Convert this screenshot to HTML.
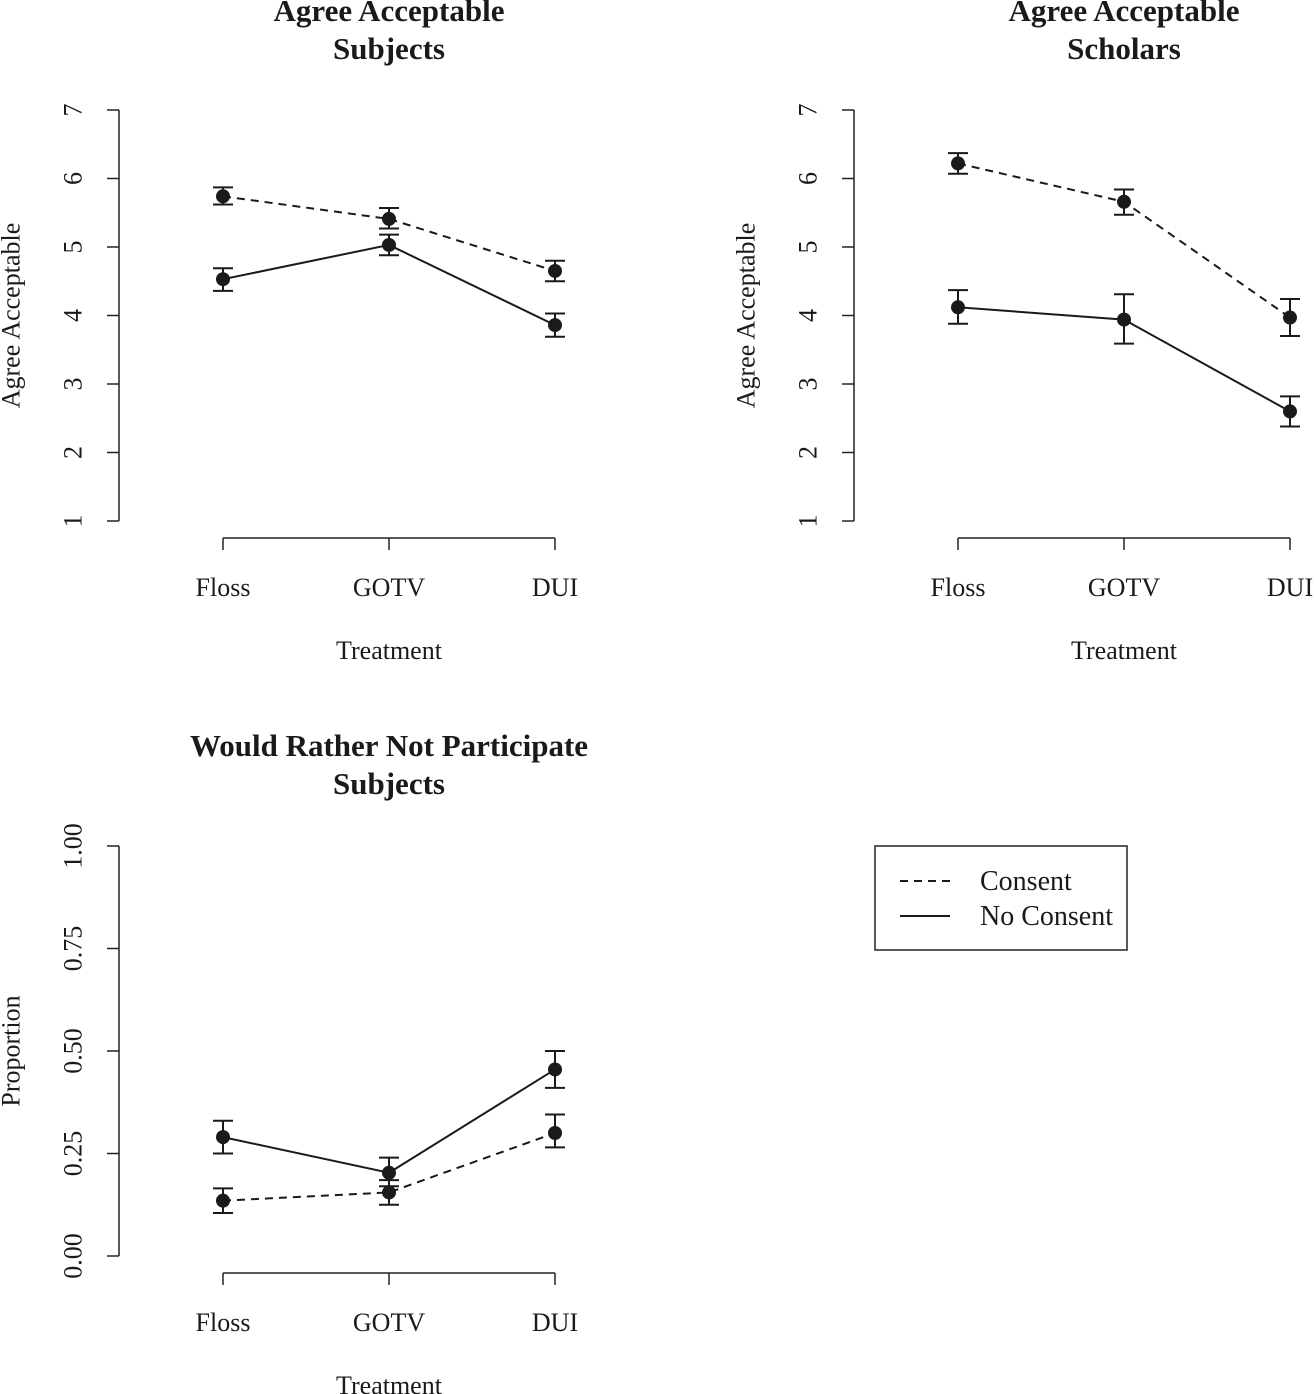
<!DOCTYPE html>
<html><head><meta charset="utf-8"><style>
html,body{margin:0;padding:0;background:#fff;}
svg{display:block;font-family:"Liberation Serif",serif;}
</style></head><body>
<svg id="chart" width="1314" height="1394" viewBox="0 0 1314 1394" xmlns="http://www.w3.org/2000/svg"></svg>
<script>
const categories = ["Floss","GOTV","DUI"];
// Panel 1: Agree Acceptable - Subjects
const p1Consent = [5.74, 5.41, 4.65];
const p1ConsentLo = [5.62, 5.27, 4.50];
const p1ConsentHi = [5.87, 5.57, 4.80];
const p1NoConsent = [4.53, 5.03, 3.86];
const p1NoConsentLo = [4.36, 4.88, 3.69];
const p1NoConsentHi = [4.69, 5.18, 4.03];
// Panel 2: Agree Acceptable - Scholars
const p2Consent = [6.22, 5.66, 3.97];
const p2ConsentLo = [6.07, 5.47, 3.70];
const p2ConsentHi = [6.37, 5.84, 4.24];
const p2NoConsent = [4.12, 3.94, 2.60];
const p2NoConsentLo = [3.88, 3.59, 2.38];
const p2NoConsentHi = [4.37, 4.31, 2.82];
// Panel 3: Would Rather Not Participate - Subjects
const p3Consent = [0.135, 0.155, 0.30];
const p3ConsentLo = [0.105, 0.125, 0.265];
const p3ConsentHi = [0.165, 0.185, 0.345];
const p3NoConsent = [0.29, 0.203, 0.455];
const p3NoConsentLo = [0.25, 0.17, 0.41];
const p3NoConsentHi = [0.33, 0.24, 0.50];
const ticks17 = [1,2,3,4,5,6,7];
const ticksProp = [0, 0.25, 0.5, 0.75, 1.0];
const tickPropLabels = ["0.00","0.25","0.50","0.75","1.00"];

const NS="http://www.w3.org/2000/svg";
const svg=document.getElementById('chart');
function mk(tag,attrs,parent){const e=document.createElementNS(NS,tag);for(const k in attrs)e.setAttribute(k,attrs[k]);(parent||svg).appendChild(e);return e;}

function panel(o){
  const g=mk('g',{});
  
  
  const y=v=>o.yBot-(v-o.yMin)/(o.yMax-o.yMin)*(o.yBot-o.yTop);
  const x=i=>o.x0+i*166;
  o.titles.forEach((t,i)=>{
    const e=mk('text',{x:o.x0+166,y:o.titleY+i*38,'text-anchor':'middle','font-size':31,'font-weight':'bold',fill:'#1a1a1a'},g);
    e.textContent=t;
    
    
  });
  const ya=mk('g',{},g);
  
  
  mk('line',{x1:o.ax,x2:o.ax,y1:y(o.ticks[0]),y2:y(o.ticks[o.ticks.length-1]),stroke:'#222','stroke-width':1.5},ya);
  o.ticks.forEach((t,i)=>{
    const ty=y(t);
    mk('line',{x1:o.ax-12,x2:o.ax,y1:ty,y2:ty,stroke:'#222','stroke-width':1.5},ya);
    const lab=mk('text',{x:0,y:0,transform:`translate(${o.ax-46},${ty}) rotate(-90)`,'text-anchor':'middle','font-size':26,fill:'#1a1a1a','dominant-baseline':'central'},ya);
    lab.textContent=o.tickLabels?o.tickLabels[i]:String(t);
    
    
  });
  const yt=mk('text',{transform:`translate(${o.ax-108},${(o.yTop+o.yBot)/2}) rotate(-90)`,'text-anchor':'middle','font-size':26,fill:'#1a1a1a','dominant-baseline':'central'},g);
  yt.textContent=o.ylab;
  
  
  const xa=mk('g',{},g);
  
  
  const axY=o.yBot+17;
  mk('line',{x1:x(0),x2:x(2),y1:axY,y2:axY,stroke:'#222','stroke-width':1.5},xa);
  categories.forEach((c,i)=>{
    mk('line',{x1:x(i),x2:x(i),y1:axY,y2:axY+12,stroke:'#222','stroke-width':1.5},xa);
    const l=mk('text',{x:x(i),y:axY+58,'text-anchor':'middle','font-size':26,fill:'#1a1a1a'},xa);
    l.textContent=c;
    
    
  });
  const xt=mk('text',{x:x(1),y:axY+121,'text-anchor':'middle','font-size':26,fill:'#1a1a1a'},g);
  xt.textContent='Treatment';
  
  
  o.series.forEach(s=>{
    const sg=mk('g',{},g);
    
    
    const pts=s.v.map((v,i)=>x(i)+','+y(v)).join(' ');
    const pl=mk('polyline',{points:pts,fill:'none',stroke:'#1a1a1a','stroke-width':2,'stroke-dasharray':s.dash?'8 6':'none'},sg);
    
    
    s.v.forEach((v,i)=>{
      const cx=x(i),lo=y(s.lo[i]),hi=y(s.hi[i]);
      mk('line',{x1:cx,x2:cx,y1:lo,y2:hi,stroke:'#1a1a1a','stroke-width':2},sg);
      mk('line',{x1:cx-10,x2:cx+10,y1:lo,y2:lo,stroke:'#1a1a1a','stroke-width':2},sg);
      mk('line',{x1:cx-10,x2:cx+10,y1:hi,y2:hi,stroke:'#1a1a1a','stroke-width':2},sg);
      const c=mk('circle',{cx:cx,cy:y(v),r:7,fill:'#1a1a1a'},sg);
      
      
    });
  });
}
panel({name:'panel-subjects-acceptable',x0:223,ax:119,yTop:110,yBot:521,yMin:1,yMax:7,ticks:ticks17,titles:['Agree Acceptable','Subjects'],titleY:21,ylab:'Agree Acceptable',
  series:[{name:'consent-series',dash:true,v:p1Consent,lo:p1ConsentLo,hi:p1ConsentHi},{name:'no-consent-series',dash:false,v:p1NoConsent,lo:p1NoConsentLo,hi:p1NoConsentHi}]});
panel({name:'panel-scholars-acceptable',x0:958,ax:854,yTop:110,yBot:521,yMin:1,yMax:7,ticks:ticks17,titles:['Agree Acceptable','Scholars'],titleY:21,ylab:'Agree Acceptable',
  series:[{name:'consent-series',dash:true,v:p2Consent,lo:p2ConsentLo,hi:p2ConsentHi},{name:'no-consent-series',dash:false,v:p2NoConsent,lo:p2NoConsentLo,hi:p2NoConsentHi}]});
panel({name:'panel-rather-not-participate',x0:223,ax:119,yTop:846,yBot:1256,yMin:0,yMax:1,ticks:ticksProp,tickLabels:tickPropLabels,titles:['Would Rather Not Participate','Subjects'],titleY:756,ylab:'Proportion',
  series:[{name:'consent-series',dash:true,v:p3Consent,lo:p3ConsentLo,hi:p3ConsentHi},{name:'no-consent-series',dash:false,v:p3NoConsent,lo:p3NoConsentLo,hi:p3NoConsentHi}]});
</script>
<svg style="position:absolute;left:0;top:0" width="1314" height="1394" xmlns="http://www.w3.org/2000/svg">
  <g font-family="Liberation Serif, serif" font-size="28" fill="#1a1a1a">
    <rect x="875" y="846" width="252" height="104" fill="none" stroke="#222" stroke-width="1.5"/>
    <g>
      <line x1="900" x2="950" y1="881" y2="881" stroke="#1a1a1a" stroke-width="2" stroke-dasharray="8 6"/>
      <text x="980" y="890">Consent</text>
    </g>
    <g>
      <line x1="900" x2="950" y1="916" y2="916" stroke="#1a1a1a" stroke-width="2"/>
      <text x="980" y="925">No Consent</text>
    </g>
  </g>
</svg>
</body></html>
